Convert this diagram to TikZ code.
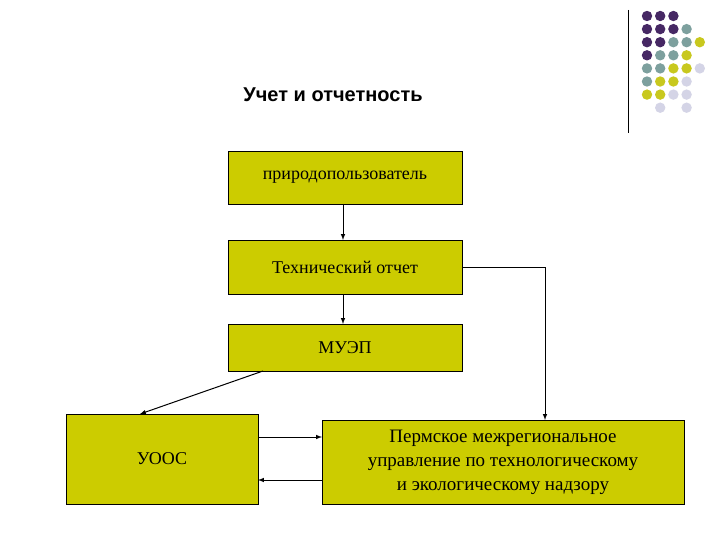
\documentclass[tikz,border=0pt]{standalone}
\usepackage{fontspec}
\setmainfont{Liberation Serif}
\newfontfamily\arialf{Liberation Sans}
\definecolor{boxc}{RGB}{204,204,0}
\definecolor{dP}{RGB}{70,40,100}
\definecolor{dT}{RGB}{125,160,158}
\definecolor{dY}{RGB}{200,200,30}
\definecolor{dL}{RGB}{212,212,230}
\definecolor{dN}{RGB}{255,255,255}
\begin{document}
\begin{tikzpicture}[x=1pt,y=-1pt,
  bx/.style={draw=black,fill=boxc,line width=0.8pt,inner sep=0pt,font=\fontsize{18}{20}\selectfont,align=center},
  arr/.style={-latex,line width=1pt}]
\useasboundingbox (0,0) rectangle (720,540);
\fill[white] (0,0) rectangle (720,540);
\draw[line width=1pt] (628,10) -- (628,133);
\foreach \r/\row in {0/{P,P,P},1/{P,P,P,T},2/{P,P,T,T,Y},3/{P,T,T,Y},4/{T,T,Y,Y,L},5/{T,Y,Y,L},6/{Y,Y,L,L},7/{N,L,N,L}}{
  \foreach \c [count=\i from 0] in \row {
    \fill[color=d\c] ({647+13.2*\i},{16+13.1*\r}) circle (5.2);
  }}
\node[font=\arialf\bfseries\fontsize{20}{22}\selectfont] (title) at (333,95) {Учет и отчетность};
\node[bx,minimum width=234,minimum height=53] (b1) at (345,177.5) {природопользователь};
\node[bx,minimum width=234,minimum height=54] (b2) at (345,267) {Технический отчет};
\node[bx,minimum width=234,minimum height=47] (b3) at (345,347.5) {МУЭП};
\node[bx,minimum width=192,minimum height=90] (u) at (162,459) {УООС};
\node[bx,minimum width=362,minimum height=84,font=\fontsize{19}{24}\selectfont] (p) at (503,462) {Пермское межрегиональное\\управление по технологическому\\и экологическому надзору};
\draw[arr] (343,204) -- (343,240);
\draw[arr] (343,294) -- (343,324);
\draw[arr] (263,371) -- (140,414);
\draw[arr] (b2.east) -- (545,267) -- (545,420);
\draw[arr] (258,437) -- (322,437);
\draw[arr] (322,480) -- (258,480);
\end{tikzpicture}
\end{document}
